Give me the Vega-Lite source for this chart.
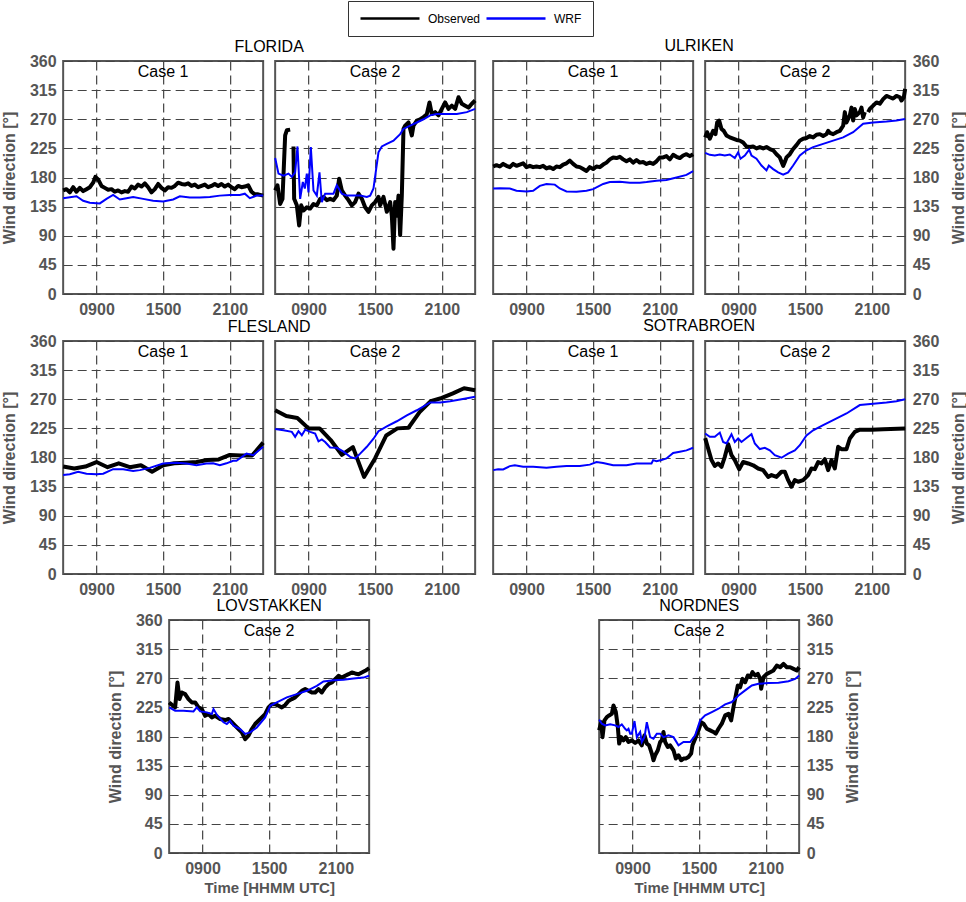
{
  "$schema": "https://vega.github.io/schema/vega-lite/v6.json",
  "padding": 0,
  "background": "white",
  "datasets": {
    "fl1o": [{"t":6,"v":160},{"t":6.3,"v":162},{"t":6.6,"v":157},{"t":6.9,"v":165},{"t":7.2,"v":158},{"t":7.5,"v":164},{"t":7.8,"v":159},{"t":8.1,"v":162},{"t":8.4,"v":165},{"t":8.7,"v":172},{"t":8.9,"v":181},{"t":9.15,"v":177},{"t":9.45,"v":167},{"t":9.75,"v":164},{"t":10.05,"v":161},{"t":10.35,"v":162},{"t":10.65,"v":158},{"t":10.95,"v":160},{"t":11.25,"v":157},{"t":11.55,"v":159},{"t":11.85,"v":158},{"t":12.15,"v":166},{"t":12.45,"v":163},{"t":12.75,"v":169},{"t":13.05,"v":166},{"t":13.35,"v":171},{"t":13.65,"v":165},{"t":13.95,"v":157},{"t":14.25,"v":162},{"t":14.55,"v":170},{"t":14.85,"v":164},{"t":15.15,"v":160},{"t":15.45,"v":165},{"t":15.75,"v":164},{"t":16.05,"v":167},{"t":16.35,"v":172},{"t":16.65,"v":170},{"t":16.95,"v":169},{"t":17.25,"v":171},{"t":17.55,"v":167},{"t":17.85,"v":169},{"t":18.15,"v":165},{"t":18.45,"v":167},{"t":18.75,"v":169},{"t":19.05,"v":165},{"t":19.35,"v":167},{"t":19.65,"v":170},{"t":19.95,"v":167},{"t":20.25,"v":170},{"t":20.55,"v":166},{"t":20.85,"v":169},{"t":21.15,"v":165},{"t":21.45,"v":162},{"t":21.75,"v":167},{"t":22.05,"v":165},{"t":22.35,"v":166},{"t":22.65,"v":168},{"t":22.95,"v":158},{"t":23.25,"v":154},{"t":23.55,"v":154},{"t":24,"v":152}],
    "fl1w": [{"t":6,"v":148},{"t":7.2,"v":151},{"t":7.8,"v":144},{"t":8.4,"v":141},{"t":9.3,"v":140},{"t":9.9,"v":147},{"t":10.5,"v":153},{"t":11.1,"v":146},{"t":11.7,"v":148},{"t":12.3,"v":150},{"t":13.2,"v":147},{"t":14.1,"v":144},{"t":15,"v":143},{"t":15.9,"v":146},{"t":16.5,"v":151},{"t":17.4,"v":149},{"t":18.3,"v":149},{"t":19.2,"v":150},{"t":20.1,"v":152},{"t":21,"v":153},{"t":21.9,"v":153},{"t":22.35,"v":155},{"t":22.8,"v":148},{"t":23.4,"v":152},{"t":24,"v":152}],
    "fl2o": [{"t":6,"v":160},{"t":6.21,"v":168},{"t":6.45,"v":139},{"t":6.66,"v":147},{"t":6.9,"v":245},{"t":7.05,"v":253},{"t":7.35,"v":254},{"t":7.5,"v":null},{"t":7.65,"v":228},{"t":7.71,"v":147},{"t":7.95,"v":137},{"t":8.16,"v":106},{"t":8.34,"v":137},{"t":8.55,"v":129},{"t":8.85,"v":134},{"t":9.15,"v":132},{"t":9.45,"v":139},{"t":9.75,"v":137},{"t":10.05,"v":147},{"t":10.35,"v":150},{"t":10.65,"v":145},{"t":10.95,"v":147},{"t":11.25,"v":145},{"t":11.55,"v":152},{"t":11.76,"v":178},{"t":12,"v":160},{"t":12.3,"v":152},{"t":12.6,"v":145},{"t":12.9,"v":137},{"t":13.2,"v":142},{"t":13.5,"v":155},{"t":13.8,"v":147},{"t":14.1,"v":134},{"t":14.4,"v":127},{"t":14.7,"v":137},{"t":15,"v":142},{"t":15.3,"v":150},{"t":15.45,"v":137},{"t":15.75,"v":150},{"t":16.05,"v":127},{"t":16.35,"v":142},{"t":16.5,"v":121},{"t":16.65,"v":70},{"t":16.8,"v":142},{"t":16.95,"v":121},{"t":17.1,"v":152},{"t":17.25,"v":91},{"t":17.4,"v":152},{"t":17.55,"v":255},{"t":17.7,"v":260},{"t":18,"v":265},{"t":18.3,"v":245},{"t":18.45,"v":260},{"t":18.75,"v":268},{"t":19.05,"v":270},{"t":19.35,"v":273},{"t":19.65,"v":278},{"t":19.89,"v":296},{"t":20.1,"v":278},{"t":20.4,"v":281},{"t":20.7,"v":276},{"t":21,"v":286},{"t":21.3,"v":296},{"t":21.6,"v":286},{"t":21.9,"v":291},{"t":22.2,"v":286},{"t":22.5,"v":304},{"t":22.8,"v":294},{"t":23.1,"v":291},{"t":23.4,"v":288},{"t":23.7,"v":294},{"t":24,"v":299}],
    "fl2w": [{"t":6,"v":210},{"t":6.3,"v":186},{"t":6.75,"v":183},{"t":7.2,"v":186},{"t":7.5,"v":181},{"t":7.8,"v":188},{"t":8.01,"v":228},{"t":8.25,"v":147},{"t":8.49,"v":173},{"t":8.67,"v":163},{"t":8.85,"v":186},{"t":9,"v":157},{"t":9.21,"v":227},{"t":9.45,"v":160},{"t":9.75,"v":152},{"t":9.99,"v":188},{"t":10.2,"v":142},{"t":10.5,"v":155},{"t":10.95,"v":155},{"t":11.25,"v":155},{"t":11.55,"v":168},{"t":12,"v":155},{"t":12.45,"v":152},{"t":13.05,"v":152},{"t":13.65,"v":152},{"t":14.25,"v":150},{"t":14.55,"v":152},{"t":14.85,"v":163},{"t":15.09,"v":193},{"t":15.3,"v":219},{"t":15.6,"v":228},{"t":16.05,"v":232},{"t":16.65,"v":237},{"t":17.25,"v":247},{"t":17.55,"v":255},{"t":18.15,"v":260},{"t":18.75,"v":265},{"t":19.35,"v":270},{"t":19.95,"v":276},{"t":20.55,"v":278},{"t":21.45,"v":278},{"t":22.35,"v":278},{"t":23.25,"v":281},{"t":24,"v":286}],
    "ul1o": [{"t":6,"v":197},{"t":6.3,"v":199},{"t":6.6,"v":197},{"t":6.9,"v":201},{"t":7.2,"v":198},{"t":7.5,"v":196},{"t":7.8,"v":201},{"t":8.1,"v":198},{"t":8.4,"v":200},{"t":8.7,"v":202},{"t":9,"v":196},{"t":9.3,"v":198},{"t":9.6,"v":196},{"t":9.9,"v":197},{"t":10.2,"v":196},{"t":10.5,"v":198},{"t":10.8,"v":194},{"t":11.1,"v":196},{"t":11.4,"v":193},{"t":11.7,"v":197},{"t":12,"v":196},{"t":12.3,"v":200},{"t":12.6,"v":202},{"t":12.9,"v":206},{"t":13.2,"v":201},{"t":13.5,"v":197},{"t":13.8,"v":196},{"t":14.1,"v":193},{"t":14.4,"v":190},{"t":14.7,"v":196},{"t":15,"v":193},{"t":15.3,"v":197},{"t":15.6,"v":196},{"t":15.9,"v":200},{"t":16.2,"v":203},{"t":16.5,"v":208},{"t":16.8,"v":211},{"t":17.1,"v":210},{"t":17.4,"v":212},{"t":17.7,"v":208},{"t":18,"v":205},{"t":18.3,"v":208},{"t":18.6,"v":203},{"t":18.9,"v":207},{"t":19.2,"v":203},{"t":19.5,"v":204},{"t":19.8,"v":201},{"t":20.1,"v":203},{"t":20.4,"v":201},{"t":20.7,"v":205},{"t":21,"v":211},{"t":21.3,"v":211},{"t":21.6,"v":213},{"t":21.9,"v":208},{"t":22.2,"v":215},{"t":22.5,"v":212},{"t":22.8,"v":210},{"t":23.1,"v":214},{"t":23.4,"v":216},{"t":23.7,"v":213},{"t":24,"v":216}],
    "ul1w": [{"t":6,"v":163},{"t":6.6,"v":163.5},{"t":7.5,"v":163},{"t":8.1,"v":159.5},{"t":9,"v":158.5},{"t":9.6,"v":159.5},{"t":10.2,"v":167},{"t":10.8,"v":170},{"t":11.55,"v":169},{"t":12,"v":163},{"t":12.6,"v":158.5},{"t":13.5,"v":158},{"t":14.4,"v":159.5},{"t":15,"v":162},{"t":15.9,"v":170},{"t":16.5,"v":173},{"t":17.4,"v":173.5},{"t":18.3,"v":172},{"t":19.2,"v":172},{"t":19.8,"v":173},{"t":20.7,"v":175},{"t":21.6,"v":176},{"t":22.5,"v":180},{"t":23.4,"v":184},{"t":24,"v":190}],
    "ul2o": [{"t":6,"v":242},{"t":6.18,"v":250},{"t":6.42,"v":240},{"t":6.72,"v":252},{"t":6.93,"v":247},{"t":7.08,"v":265},{"t":7.26,"v":268},{"t":7.47,"v":255},{"t":7.68,"v":252},{"t":7.92,"v":245},{"t":8.22,"v":242},{"t":8.52,"v":240},{"t":8.82,"v":238},{"t":9.12,"v":237},{"t":9.42,"v":234},{"t":9.72,"v":228},{"t":10.02,"v":227},{"t":10.32,"v":228},{"t":10.62,"v":225},{"t":10.92,"v":227},{"t":11.22,"v":225},{"t":11.52,"v":227},{"t":11.82,"v":224},{"t":12.12,"v":222},{"t":12.42,"v":216},{"t":12.72,"v":211},{"t":13.02,"v":198},{"t":13.17,"v":204},{"t":13.32,"v":211},{"t":13.62,"v":216},{"t":13.92,"v":224},{"t":14.22,"v":230},{"t":14.52,"v":237},{"t":14.82,"v":240},{"t":15.12,"v":241},{"t":15.42,"v":244},{"t":15.72,"v":242},{"t":16.02,"v":246},{"t":16.32,"v":247},{"t":16.62,"v":244},{"t":16.92,"v":247},{"t":17.07,"v":252},{"t":17.22,"v":249},{"t":17.52,"v":247},{"t":17.82,"v":250},{"t":18.12,"v":252},{"t":18.42,"v":260},{"t":18.57,"v":281},{"t":18.72,"v":265},{"t":19.02,"v":276},{"t":19.17,"v":288},{"t":19.32,"v":268},{"t":19.47,"v":286},{"t":19.62,"v":276},{"t":19.92,"v":281},{"t":20.07,"v":288},{"t":20.22,"v":273},{"t":20.37,"v":281},{"t":20.5,"v":null},{"t":20.67,"v":281},{"t":20.82,"v":286},{"t":21.12,"v":291},{"t":21.42,"v":296},{"t":21.72,"v":294},{"t":22.02,"v":301},{"t":22.32,"v":306},{"t":22.62,"v":304},{"t":22.92,"v":302},{"t":23.22,"v":306},{"t":23.52,"v":304},{"t":23.67,"v":299},{"t":23.88,"v":304},{"t":24,"v":317}],
    "ul2w": [{"t":6,"v":218},{"t":6.42,"v":215},{"t":6.87,"v":214},{"t":7.32,"v":215.5},{"t":7.77,"v":214},{"t":8.22,"v":215.5},{"t":8.67,"v":210},{"t":8.97,"v":219},{"t":9.18,"v":209},{"t":9.57,"v":214},{"t":9.96,"v":223},{"t":10.17,"v":214},{"t":10.62,"v":209},{"t":11.07,"v":198.5},{"t":11.52,"v":191},{"t":11.73,"v":198.5},{"t":12.12,"v":193},{"t":12.57,"v":188},{"t":13.02,"v":184.5},{"t":13.47,"v":188},{"t":13.92,"v":198.5},{"t":14.52,"v":214},{"t":15.12,"v":222},{"t":15.72,"v":227},{"t":16.62,"v":232},{"t":17.52,"v":237},{"t":18.42,"v":242},{"t":19.32,"v":250},{"t":20.22,"v":263},{"t":21.12,"v":265},{"t":22.32,"v":266.5},{"t":23.22,"v":268},{"t":24,"v":270.5}],
    "fs1o": [{"t":6,"v":166},{"t":7,"v":163},{"t":8,"v":166},{"t":9,"v":173},{"t":10,"v":165},{"t":11,"v":171},{"t":12,"v":165},{"t":13,"v":168},{"t":14,"v":158},{"t":15,"v":168},{"t":16,"v":171},{"t":17,"v":172},{"t":18,"v":173},{"t":19,"v":176},{"t":20,"v":177},{"t":21,"v":184},{"t":22,"v":183},{"t":23,"v":183},{"t":24,"v":203}],
    "fs1w": [{"t":6,"v":153},{"t":6.6,"v":154},{"t":7.35,"v":158},{"t":8.1,"v":155},{"t":9,"v":154},{"t":9.6,"v":155},{"t":10.5,"v":162},{"t":11.4,"v":162},{"t":12.3,"v":159},{"t":12.9,"v":160.5},{"t":13.8,"v":164},{"t":15,"v":170.8},{"t":16.2,"v":172},{"t":17.1,"v":170.8},{"t":18,"v":168},{"t":18.9,"v":170.8},{"t":19.5,"v":171},{"t":20.1,"v":168},{"t":20.7,"v":171},{"t":21.3,"v":175},{"t":21.6,"v":175},{"t":22.5,"v":186},{"t":23.1,"v":183.6},{"t":24,"v":196.5}],
    "fs2o": [{"t":6,"v":253},{"t":7,"v":244},{"t":8,"v":241},{"t":9,"v":225},{"t":10,"v":225},{"t":11,"v":207},{"t":12,"v":184},{"t":13,"v":196},{"t":14,"v":150},{"t":15,"v":179},{"t":16,"v":214},{"t":17,"v":225},{"t":18,"v":226},{"t":19,"v":250},{"t":20,"v":267},{"t":21,"v":272},{"t":22,"v":279},{"t":23,"v":287},{"t":24,"v":284}],
    "fs2w": [{"t":6,"v":224},{"t":6.75,"v":222},{"t":7.5,"v":219.6},{"t":7.8,"v":212},{"t":8.1,"v":220.7},{"t":8.4,"v":214.5},{"t":8.7,"v":223},{"t":9.15,"v":219.6},{"t":9.6,"v":217},{"t":9.9,"v":205},{"t":10.2,"v":208},{"t":10.5,"v":204},{"t":10.95,"v":195.5},{"t":11.55,"v":195},{"t":12.15,"v":189},{"t":12.75,"v":181},{"t":13.2,"v":178.5},{"t":13.65,"v":186},{"t":14.25,"v":196.5},{"t":14.85,"v":209},{"t":15.3,"v":220.7},{"t":16.05,"v":228},{"t":16.95,"v":236},{"t":17.85,"v":245},{"t":18.75,"v":253},{"t":19.95,"v":265},{"t":20.85,"v":265},{"t":21.75,"v":267},{"t":22.65,"v":269.5},{"t":24,"v":273.7}],
    "so1w": [{"t":6,"v":160.5},{"t":6.45,"v":162},{"t":6.9,"v":161.6},{"t":7.5,"v":166.7},{"t":7.95,"v":168},{"t":8.7,"v":165.6},{"t":9.6,"v":165.6},{"t":10.8,"v":164},{"t":11.7,"v":165.6},{"t":12.6,"v":166.7},{"t":13.8,"v":166.7},{"t":14.7,"v":169},{"t":15.3,"v":173},{"t":15.9,"v":171.5},{"t":16.8,"v":168},{"t":18,"v":168},{"t":18.9,"v":170.8},{"t":19.8,"v":170.8},{"t":20.25,"v":170.8},{"t":20.4,"v":176},{"t":20.7,"v":174.4},{"t":21.15,"v":176},{"t":21.6,"v":178.5},{"t":22.2,"v":187},{"t":22.8,"v":189},{"t":23.4,"v":191},{"t":24,"v":195}],
    "so2o": [{"t":6,"v":210},{"t":6.27,"v":194},{"t":6.57,"v":176},{"t":6.87,"v":167},{"t":7.17,"v":170.8},{"t":7.47,"v":165.6},{"t":7.77,"v":181},{"t":8.07,"v":200.6},{"t":8.37,"v":183.6},{"t":8.67,"v":176},{"t":9.06,"v":162},{"t":9.42,"v":173},{"t":9.87,"v":170.8},{"t":10.32,"v":168},{"t":10.77,"v":163},{"t":11.22,"v":160.5},{"t":11.67,"v":150},{"t":11.97,"v":152.8},{"t":12.42,"v":150},{"t":12.87,"v":158},{"t":13.17,"v":158},{"t":13.47,"v":145},{"t":13.77,"v":134.8},{"t":14.07,"v":145},{"t":14.37,"v":142.5},{"t":14.82,"v":145},{"t":15.27,"v":152.8},{"t":15.57,"v":163},{"t":15.87,"v":162},{"t":16.17,"v":173},{"t":16.47,"v":170.8},{"t":16.77,"v":177.5},{"t":17.07,"v":160.5},{"t":17.37,"v":176},{"t":17.67,"v":163},{"t":17.97,"v":196.5},{"t":18.27,"v":192.9},{"t":18.72,"v":192.9},{"t":19.02,"v":209.4},{"t":19.47,"v":219.6},{"t":19.92,"v":223},{"t":20.97,"v":223},{"t":22.02,"v":223.8},{"t":24,"v":224.8}],
    "so2w": [{"t":6,"v":217},{"t":6.42,"v":212},{"t":6.87,"v":212},{"t":7.32,"v":218.5},{"t":7.62,"v":204},{"t":7.92,"v":201.6},{"t":8.37,"v":216},{"t":8.67,"v":204},{"t":8.97,"v":209.4},{"t":9.27,"v":204},{"t":9.72,"v":210},{"t":10.17,"v":216},{"t":10.47,"v":201.6},{"t":10.92,"v":193},{"t":11.37,"v":195},{"t":11.82,"v":191},{"t":12.27,"v":183.6},{"t":12.87,"v":179.6},{"t":13.47,"v":186},{"t":14.07,"v":191},{"t":14.52,"v":199},{"t":15.12,"v":214},{"t":15.72,"v":222},{"t":16.62,"v":230},{"t":17.52,"v":237.6},{"t":18.72,"v":248},{"t":19.92,"v":261},{"t":21.12,"v":263},{"t":22.32,"v":265},{"t":23.22,"v":267},{"t":24,"v":270}],
    "lvo": [{"t":6,"v":232.7},{"t":6.24,"v":229},{"t":6.54,"v":225},{"t":6.75,"v":263.5},{"t":6.93,"v":237.8},{"t":7.14,"v":248},{"t":7.44,"v":245.5},{"t":7.74,"v":237.8},{"t":8.04,"v":232.7},{"t":8.34,"v":232.7},{"t":8.64,"v":225},{"t":8.94,"v":222.4},{"t":9.24,"v":212},{"t":9.54,"v":214.7},{"t":9.84,"v":209.5},{"t":10.14,"v":212},{"t":10.59,"v":207},{"t":11.04,"v":205.4},{"t":11.34,"v":207},{"t":11.64,"v":202},{"t":11.94,"v":196.7},{"t":12.24,"v":191.6},{"t":12.54,"v":186.4},{"t":12.84,"v":176},{"t":13.14,"v":181.3},{"t":13.44,"v":191.6},{"t":13.74,"v":199.3},{"t":14.04,"v":204.4},{"t":14.34,"v":209.5},{"t":14.64,"v":214.7},{"t":14.94,"v":225},{"t":15.24,"v":230},{"t":15.54,"v":230},{"t":15.84,"v":227.5},{"t":16.14,"v":225},{"t":16.44,"v":228.6},{"t":16.74,"v":235},{"t":17.04,"v":237.8},{"t":17.34,"v":240.4},{"t":17.64,"v":245.5},{"t":17.94,"v":250.6},{"t":18.24,"v":253.2},{"t":18.54,"v":250.6},{"t":18.84,"v":248},{"t":19.14,"v":248},{"t":19.44,"v":253.2},{"t":19.74,"v":248},{"t":20.04,"v":255.8},{"t":20.34,"v":261},{"t":20.64,"v":263.5},{"t":20.94,"v":268.6},{"t":21.24,"v":273.8},{"t":21.54,"v":271},{"t":21.84,"v":273.8},{"t":22.14,"v":276.3},{"t":22.44,"v":279},{"t":22.74,"v":277.4},{"t":23.04,"v":276.3},{"t":23.34,"v":279},{"t":23.64,"v":281.5},{"t":24,"v":285.6}],
    "lvw": [{"t":6,"v":225},{"t":6.54,"v":219.8},{"t":7.29,"v":219.8},{"t":8.19,"v":218.8},{"t":8.49,"v":225},{"t":8.79,"v":218.8},{"t":9.39,"v":217.3},{"t":9.84,"v":214.7},{"t":9.99,"v":222.4},{"t":10.29,"v":213.7},{"t":10.89,"v":202},{"t":11.19,"v":199.3},{"t":11.49,"v":204.4},{"t":11.79,"v":196.7},{"t":12.39,"v":191.6},{"t":12.84,"v":183.9},{"t":13.29,"v":186.4},{"t":13.89,"v":194},{"t":14.64,"v":209.5},{"t":15.09,"v":227.5},{"t":15.69,"v":232.7},{"t":16.59,"v":240.4},{"t":17.49,"v":245.5},{"t":18.39,"v":250.6},{"t":19.29,"v":258.3},{"t":19.89,"v":265},{"t":20.79,"v":267},{"t":21.69,"v":267.6},{"t":22.59,"v":269.6},{"t":23.49,"v":271},{"t":24,"v":273.8}],
    "noo": [{"t":6,"v":189.5},{"t":6.18,"v":202},{"t":6.3,"v":179},{"t":6.48,"v":205},{"t":6.69,"v":210},{"t":6.9,"v":212.6},{"t":7.14,"v":215},{"t":7.29,"v":228},{"t":7.5,"v":217.8},{"t":7.68,"v":194.7},{"t":7.8,"v":169},{"t":7.98,"v":179},{"t":8.19,"v":174},{"t":8.4,"v":179},{"t":8.64,"v":171.5},{"t":8.94,"v":174},{"t":9.24,"v":170},{"t":9.54,"v":174},{"t":9.84,"v":166.4},{"t":10.08,"v":181.8},{"t":10.29,"v":169},{"t":10.5,"v":166.4},{"t":10.74,"v":153.6},{"t":10.89,"v":143.3},{"t":11.04,"v":151},{"t":11.28,"v":158.7},{"t":11.49,"v":171.5},{"t":11.64,"v":174},{"t":11.79,"v":187},{"t":11.94,"v":171.5},{"t":12.18,"v":163.8},{"t":12.39,"v":166.4},{"t":12.69,"v":158.7},{"t":12.9,"v":145.9},{"t":13.14,"v":151},{"t":13.38,"v":143.3},{"t":13.59,"v":145.9},{"t":13.8,"v":145.9},{"t":14.04,"v":148.4},{"t":14.28,"v":153.6},{"t":14.4,"v":166.4},{"t":14.64,"v":176.7},{"t":14.94,"v":189.5},{"t":15.18,"v":202},{"t":15.39,"v":199.8},{"t":15.69,"v":192},{"t":15.99,"v":189.5},{"t":16.29,"v":187},{"t":16.5,"v":184.4},{"t":16.74,"v":192},{"t":17.04,"v":199.8},{"t":17.34,"v":212.6},{"t":17.64,"v":215},{"t":17.88,"v":205},{"t":18.09,"v":225.5},{"t":18.3,"v":243.4},{"t":18.48,"v":258.9},{"t":18.69,"v":256},{"t":18.9,"v":269},{"t":19.14,"v":264},{"t":19.38,"v":274.3},{"t":19.59,"v":271.7},{"t":19.8,"v":279.4},{"t":20.04,"v":274.3},{"t":20.28,"v":276.8},{"t":20.49,"v":269},{"t":20.58,"v":253.7},{"t":20.79,"v":271.7},{"t":21.09,"v":276.8},{"t":21.39,"v":279.4},{"t":21.69,"v":282},{"t":21.99,"v":289.7},{"t":22.29,"v":287},{"t":22.59,"v":292.2},{"t":22.89,"v":287},{"t":23.19,"v":287},{"t":23.49,"v":284.5},{"t":23.79,"v":282},{"t":24,"v":287}],
    "now": [{"t":6,"v":206},{"t":6.24,"v":199.8},{"t":6.54,"v":197.2},{"t":6.99,"v":198.8},{"t":7.44,"v":197.2},{"t":7.74,"v":194.7},{"t":8.04,"v":198.8},{"t":8.34,"v":192},{"t":8.49,"v":189.5},{"t":8.64,"v":192},{"t":8.79,"v":184.4},{"t":8.94,"v":184.4},{"t":9.18,"v":203.9},{"t":9.39,"v":179},{"t":9.69,"v":187},{"t":9.84,"v":171.5},{"t":10.08,"v":179},{"t":10.29,"v":202},{"t":10.59,"v":179},{"t":10.89,"v":176.7},{"t":11.19,"v":184.4},{"t":11.49,"v":184.4},{"t":11.79,"v":179},{"t":12.24,"v":181.8},{"t":12.69,"v":179},{"t":13.14,"v":166.4},{"t":13.59,"v":171.5},{"t":14.19,"v":171.5},{"t":14.64,"v":181.8},{"t":15.09,"v":205},{"t":15.54,"v":212.6},{"t":16.14,"v":217.8},{"t":16.74,"v":222.9},{"t":17.34,"v":229.6},{"t":17.94,"v":233.2},{"t":18.54,"v":243.4},{"t":19.14,"v":251.2},{"t":19.74,"v":258.9},{"t":20.34,"v":261.4},{"t":21.24,"v":262.5},{"t":22.14,"v":263},{"t":23.04,"v":265.5},{"t":23.64,"v":269},{"t":24,"v":274.3}]
  },
  "vconcat": [
    {
      "concat": [
        {
          "spacing": 12,
          "bounds": "flush",
          "hconcat": [
            {"title": {"text": "FLORIDA", "anchor": "middle", "dx": 106, "offset": -2}, "width": 200, "height": 233, "layer": [
              {"data": {"name": "fl1o"}, "mark": {"type": "line", "strokeWidth": 4, "strokeJoin": "round"}, "encoding": {
                "x": {"field": "t", "type": "quantitative", "scale": {"domain": [6, 24], "nice": false, "zero": false}, "axis": {"values": [9, 15, 21], "labelExpr": "(datum.value < 10 ? '0' : '') + datum.value + '00'", "title": null}},
                "y": {"field": "v", "type": "quantitative", "scale": {"domain": [0, 360], "nice": false}, "axis": {"values": [0, 45, 90, 135, 180, 225, 270, 315, 360], "tickCount": 9, "title": "Wind direction [°]"}},
                "color": {"datum": "Observed", "type": "nominal", "legend": {"title": null}}}},
              {"data": {"name": "fl1w"}, "mark": {"type": "line", "strokeWidth": 2}, "encoding": {
                "x": {"field": "t", "type": "quantitative"}, "y": {"field": "v", "type": "quantitative"},
                "color": {"datum": "WRF", "type": "nominal", "legend": {"title": null}}}},
              {"data": {"values": [{}]}, "mark": {"type": "text", "fontSize": 16, "color": "black"}, "encoding": {"x": {"datum": 15}, "y": {"datum": 343}, "text": {"value": "Case 1"}}}
            ]},
            {"width": 200, "height": 233, "layer": [
              {"data": {"name": "fl2o"}, "mark": {"type": "line", "strokeWidth": 4, "strokeJoin": "round"}, "encoding": {
                "x": {"field": "t", "type": "quantitative", "scale": {"domain": [6, 24], "nice": false, "zero": false}, "axis": {"values": [9, 15, 21], "labelExpr": "(datum.value < 10 ? '0' : '') + datum.value + '00'", "title": null}},
                "y": {"field": "v", "type": "quantitative", "scale": {"domain": [0, 360], "nice": false}, "axis": {"values": [0, 45, 90, 135, 180, 225, 270, 315, 360], "tickCount": 9, "labels": false, "title": null}},
                "color": {"datum": "Observed", "type": "nominal", "legend": {"title": null}}}},
              {"data": {"name": "fl2w"}, "mark": {"type": "line", "strokeWidth": 2}, "encoding": {
                "x": {"field": "t", "type": "quantitative"}, "y": {"field": "v", "type": "quantitative"},
                "color": {"datum": "WRF", "type": "nominal", "legend": {"title": null}}}},
              {"data": {"values": [{}]}, "mark": {"type": "text", "fontSize": 16, "color": "black"}, "encoding": {"x": {"datum": 15}, "y": {"datum": 343}, "text": {"value": "Case 2"}}}
            ]}
          ]
        },
        {
          "spacing": 12,
          "bounds": "flush",
          "hconcat": [
            {"title": {"text": "ULRIKEN", "anchor": "middle", "dx": 106, "offset": 7}, "width": 200, "height": 233, "layer": [
              {"data": {"name": "ul1o"}, "mark": {"type": "line", "strokeWidth": 4, "strokeJoin": "round"}, "encoding": {
                "x": {"field": "t", "type": "quantitative", "scale": {"domain": [6, 24], "nice": false, "zero": false}, "axis": {"values": [9, 15, 21], "labelExpr": "(datum.value < 10 ? '0' : '') + datum.value + '00'", "title": null}},
                "y": {"field": "v", "type": "quantitative", "scale": {"domain": [0, 360], "nice": false}, "axis": {"values": [0, 45, 90, 135, 180, 225, 270, 315, 360], "tickCount": 9, "labels": false, "title": null}},
                "color": {"datum": "Observed", "type": "nominal", "legend": {"title": null}}}},
              {"data": {"name": "ul1w"}, "mark": {"type": "line", "strokeWidth": 2}, "encoding": {
                "x": {"field": "t", "type": "quantitative"}, "y": {"field": "v", "type": "quantitative"},
                "color": {"datum": "WRF", "type": "nominal", "legend": {"title": null}}}},
              {"data": {"values": [{}]}, "mark": {"type": "text", "fontSize": 16, "color": "black"}, "encoding": {"x": {"datum": 15}, "y": {"datum": 343}, "text": {"value": "Case 1"}}}
            ]},
            {"width": 200, "height": 233, "layer": [
              {"data": {"name": "ul2o"}, "mark": {"type": "line", "strokeWidth": 4, "strokeJoin": "round"}, "encoding": {
                "x": {"field": "t", "type": "quantitative", "scale": {"domain": [6, 24], "nice": false, "zero": false}, "axis": {"values": [9, 15, 21], "labelExpr": "(datum.value < 10 ? '0' : '') + datum.value + '00'", "title": null}},
                "y": {"field": "v", "type": "quantitative", "scale": {"domain": [0, 360], "nice": false}, "axis": {"values": [0, 45, 90, 135, 180, 225, 270, 315, 360], "tickCount": 9, "orient": "right", "title": "Wind direction [°]", "titleAngle": 270, "titleBaseline": "top"}},
                "color": {"datum": "Observed", "type": "nominal", "legend": {"title": null}}}},
              {"data": {"name": "ul2w"}, "mark": {"type": "line", "strokeWidth": 2}, "encoding": {
                "x": {"field": "t", "type": "quantitative"}, "y": {"field": "v", "type": "quantitative"},
                "color": {"datum": "WRF", "type": "nominal", "legend": {"title": null}}}},
              {"data": {"values": [{}]}, "mark": {"type": "text", "fontSize": 16, "color": "black"}, "encoding": {"x": {"datum": 15}, "y": {"datum": 343}, "text": {"value": "Case 2"}}}
            ]}
          ]
        }
      ],
      "columns": 2,
      "align": "none",
      "spacing": 8
    },
    {
      "concat": [
        {
          "spacing": 12,
          "bounds": "flush",
          "hconcat": [
            {"title": {"text": "FLESLAND", "anchor": "middle", "dx": 106, "offset": -2}, "width": 200, "height": 233, "layer": [
              {"data": {"name": "fs1o"}, "mark": {"type": "line", "strokeWidth": 4, "strokeJoin": "round"}, "encoding": {
                "x": {"field": "t", "type": "quantitative", "scale": {"domain": [6, 24], "nice": false, "zero": false}, "axis": {"values": [9, 15, 21], "labelExpr": "(datum.value < 10 ? '0' : '') + datum.value + '00'", "title": null}},
                "y": {"field": "v", "type": "quantitative", "scale": {"domain": [0, 360], "nice": false}, "axis": {"values": [0, 45, 90, 135, 180, 225, 270, 315, 360], "tickCount": 9, "title": "Wind direction [°]"}},
                "color": {"datum": "Observed", "type": "nominal", "legend": {"title": null}}}},
              {"data": {"name": "fs1w"}, "mark": {"type": "line", "strokeWidth": 2}, "encoding": {
                "x": {"field": "t", "type": "quantitative"}, "y": {"field": "v", "type": "quantitative"},
                "color": {"datum": "WRF", "type": "nominal", "legend": {"title": null}}}},
              {"data": {"values": [{}]}, "mark": {"type": "text", "fontSize": 16, "color": "black"}, "encoding": {"x": {"datum": 15}, "y": {"datum": 343}, "text": {"value": "Case 1"}}}
            ]},
            {"width": 200, "height": 233, "layer": [
              {"data": {"name": "fs2o"}, "mark": {"type": "line", "strokeWidth": 4, "strokeJoin": "round"}, "encoding": {
                "x": {"field": "t", "type": "quantitative", "scale": {"domain": [6, 24], "nice": false, "zero": false}, "axis": {"values": [9, 15, 21], "labelExpr": "(datum.value < 10 ? '0' : '') + datum.value + '00'", "title": null}},
                "y": {"field": "v", "type": "quantitative", "scale": {"domain": [0, 360], "nice": false}, "axis": {"values": [0, 45, 90, 135, 180, 225, 270, 315, 360], "tickCount": 9, "labels": false, "title": null}},
                "color": {"datum": "Observed", "type": "nominal", "legend": {"title": null}}}},
              {"data": {"name": "fs2w"}, "mark": {"type": "line", "strokeWidth": 2}, "encoding": {
                "x": {"field": "t", "type": "quantitative"}, "y": {"field": "v", "type": "quantitative"},
                "color": {"datum": "WRF", "type": "nominal", "legend": {"title": null}}}},
              {"data": {"values": [{}]}, "mark": {"type": "text", "fontSize": 16, "color": "black"}, "encoding": {"x": {"datum": 15}, "y": {"datum": 343}, "text": {"value": "Case 2"}}}
            ]}
          ]
        },
        {
          "spacing": 12,
          "bounds": "flush",
          "hconcat": [
            {"title": {"text": "SOTRABROEN", "anchor": "middle", "dx": 106, "offset": 7}, "width": 200, "height": 233, "layer": [
              {"data": {"name": "so1w"}, "mark": {"type": "line", "strokeWidth": 2}, "encoding": {
                "x": {"field": "t", "type": "quantitative", "scale": {"domain": [6, 24], "nice": false, "zero": false}, "axis": {"values": [9, 15, 21], "labelExpr": "(datum.value < 10 ? '0' : '') + datum.value + '00'", "title": null}},
                "y": {"field": "v", "type": "quantitative", "scale": {"domain": [0, 360], "nice": false}, "axis": {"values": [0, 45, 90, 135, 180, 225, 270, 315, 360], "tickCount": 9, "labels": false, "title": null}},
                "color": {"datum": "WRF", "type": "nominal", "legend": {"title": null}}}},
              {"data": {"values": [{}]}, "mark": {"type": "text", "fontSize": 16, "color": "black"}, "encoding": {"x": {"datum": 15}, "y": {"datum": 343}, "text": {"value": "Case 1"}}}
            ]},
            {"width": 200, "height": 233, "layer": [
              {"data": {"name": "so2o"}, "mark": {"type": "line", "strokeWidth": 4, "strokeJoin": "round"}, "encoding": {
                "x": {"field": "t", "type": "quantitative", "scale": {"domain": [6, 24], "nice": false, "zero": false}, "axis": {"values": [9, 15, 21], "labelExpr": "(datum.value < 10 ? '0' : '') + datum.value + '00'", "title": null}},
                "y": {"field": "v", "type": "quantitative", "scale": {"domain": [0, 360], "nice": false}, "axis": {"values": [0, 45, 90, 135, 180, 225, 270, 315, 360], "tickCount": 9, "orient": "right", "title": "Wind direction [°]", "titleAngle": 270, "titleBaseline": "top"}},
                "color": {"datum": "Observed", "type": "nominal", "legend": {"title": null}}}},
              {"data": {"name": "so2w"}, "mark": {"type": "line", "strokeWidth": 2}, "encoding": {
                "x": {"field": "t", "type": "quantitative"}, "y": {"field": "v", "type": "quantitative"},
                "color": {"datum": "WRF", "type": "nominal", "legend": {"title": null}}}},
              {"data": {"values": [{}]}, "mark": {"type": "text", "fontSize": 16, "color": "black"}, "encoding": {"x": {"datum": 15}, "y": {"datum": 343}, "text": {"value": "Case 2"}}}
            ]}
          ]
        }
      ],
      "columns": 2,
      "align": "none",
      "spacing": 8
    },
    {
      "hconcat": [
        {"title": {"text": "LOVSTAKKEN", "anchor": "middle", "offset": -2}, "width": 200, "height": 233, "layer": [
          {"data": {"name": "lvo"}, "mark": {"type": "line", "strokeWidth": 4, "strokeJoin": "round"}, "encoding": {
            "x": {"field": "t", "type": "quantitative", "scale": {"domain": [6, 24], "nice": false, "zero": false}, "axis": {"values": [9, 15, 21], "labelExpr": "(datum.value < 10 ? '0' : '') + datum.value + '00'", "title": "Time [HHMM UTC]"}},
            "y": {"field": "v", "type": "quantitative", "scale": {"domain": [0, 360], "nice": false}, "axis": {"values": [0, 45, 90, 135, 180, 225, 270, 315, 360], "tickCount": 9, "title": "Wind direction [°]"}},
            "color": {"datum": "Observed", "type": "nominal", "legend": {"title": null}}}},
          {"data": {"name": "lvw"}, "mark": {"type": "line", "strokeWidth": 2}, "encoding": {
            "x": {"field": "t", "type": "quantitative"}, "y": {"field": "v", "type": "quantitative"},
            "color": {"datum": "WRF", "type": "nominal", "legend": {"title": null}}}},
          {"data": {"values": [{}]}, "mark": {"type": "text", "fontSize": 16, "color": "black"}, "encoding": {"x": {"datum": 15}, "y": {"datum": 343}, "text": {"value": "Case 2"}}}
        ]},
        {"title": {"text": "NORDNES", "anchor": "middle", "offset": -2}, "width": 200, "height": 233, "layer": [
          {"data": {"name": "noo"}, "mark": {"type": "line", "strokeWidth": 4, "strokeJoin": "round"}, "encoding": {
            "x": {"field": "t", "type": "quantitative", "scale": {"domain": [6, 24], "nice": false, "zero": false}, "axis": {"values": [9, 15, 21], "labelExpr": "(datum.value < 10 ? '0' : '') + datum.value + '00'", "title": "Time [HHMM UTC]"}},
            "y": {"field": "v", "type": "quantitative", "scale": {"domain": [0, 360], "nice": false}, "axis": {"values": [0, 45, 90, 135, 180, 225, 270, 315, 360], "tickCount": 9, "orient": "right", "title": "Wind direction [°]", "titleAngle": 270, "titleBaseline": "top"}},
            "color": {"datum": "Observed", "type": "nominal", "legend": {"title": null}}}},
          {"data": {"name": "now"}, "mark": {"type": "line", "strokeWidth": 2}, "encoding": {
            "x": {"field": "t", "type": "quantitative"}, "y": {"field": "v", "type": "quantitative"},
            "color": {"datum": "WRF", "type": "nominal", "legend": {"title": null}}}},
          {"data": {"values": [{}]}, "mark": {"type": "text", "fontSize": 16, "color": "black"}, "encoding": {"x": {"datum": 15}, "y": {"datum": 343}, "text": {"value": "Case 2"}}}
        ]}
      ],
      "spacing": 230,
      "bounds": "flush"
    }
  ],
  "spacing": -1,
  "center": true,
  "resolve": {"scale": {"color": "shared"}, "legend": {"color": "shared"}},
  "config": {
    "font": "Liberation Sans",
    "view": {"stroke": "#555555", "strokeWidth": 2},
    "range": {"category": ["#000000", "#0000ff"]},
    "axis": {
      "grid": true, "gridDash": [9, 5], "gridColor": "#444444", "gridWidth": 1.2, "gridOpacity": 1,
      "ticks": false, "domain": false,
      "labelFont": "Liberation Sans", "labelFontSize": 16, "labelFontWeight": "bold", "labelColor": "#555555", "labelPadding": 7,
      "titleFont": "Liberation Sans", "titleFontSize": 16, "titleFontWeight": "bold", "titleColor": "#555555", "titlePadding": 12
    },
    "axisX": {"titleFontSize": 15, "titlePadding": 4},
    "title": {"fontSize": 16, "fontWeight": "normal", "color": "#000000", "anchor": "middle", "frame": "group", "font": "Liberation Sans"},
    "legend": {
      "orient": "none", "legendX": 285, "legendY": -60, "direction": "horizontal",
      "symbolType": "stroke", "symbolSize": 3481, "symbolStrokeWidth": 2.5, "symbolOffset": 0, "clipHeight": 13,
      "labelFont": "Liberation Sans", "labelFontSize": 12, "labelColor": "#000000", "labelOffset": 7,
      "strokeColor": "#333333", "fillColor": "#ffffff", "padding": 11, "columnPadding": 4
    }
  }
}
